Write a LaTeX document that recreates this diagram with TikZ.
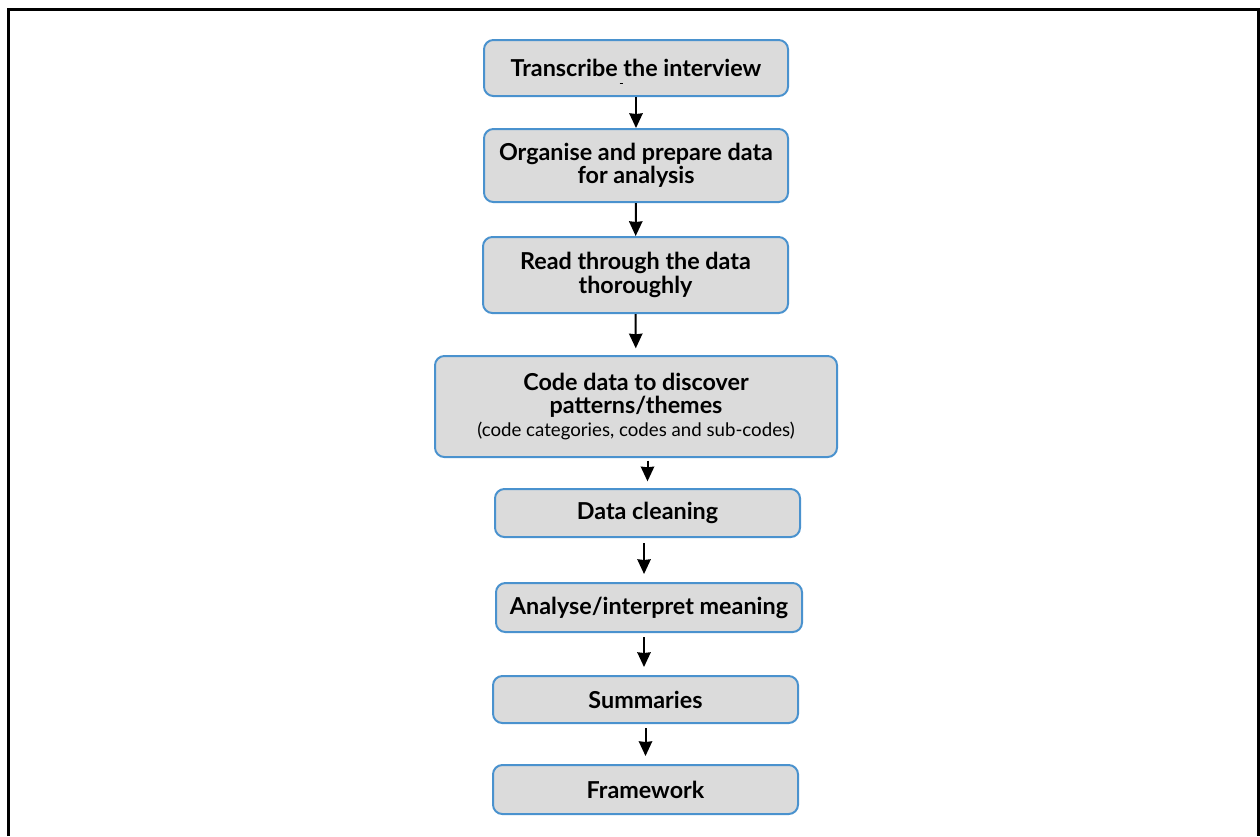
\documentclass[tikz,border=0pt]{standalone}
\usepackage{fontspec}
\setmainfont{Lato}
\usepackage{tkz-euclide}
\usetikzlibrary{arrows.meta}
\definecolor{boxblue}{RGB}{74,146,206}
\definecolor{boxgrey}{RGB}{219,219,219}
\tikzset{
  stepbox/.style={draw=boxblue, fill=boxgrey, line width=1.5pt, rounded corners=7pt,
    align=center, inner sep=0pt, font=\bfseries\fontsize{17.5}{17.5}\selectfont},
  flow/.style={-{Stealth[length=11pt,width=10pt,inset=0.5pt]}, line width=1.5pt}
}
\begin{document}
\begin{tikzpicture}[x=0.75pt,y=-0.75pt]
            \useasboundingbox (0,0) rectangle (1260,836);
            \draw[line width=2.25pt] (8.5,836) -- (8.5,9.5) -- (1258.5,9.5) -- (1258.5,836);

            \tkzDefPoints{636/68/S_t, 636/165.5/S_o, 635.5/275/S_r, 636/406.5/S_c}
            \tkzDefPoints{647.5/513/S_dc, 649/607.5/S_a, 645.5/699.5/S_s, 645.5/789.5/S_f}

            \node[stepbox, minimum width=228pt, minimum height=42pt] (transcribe) at (S_t)
                {Transcribe the interview};
            % stray mark under the first label
            \draw[line width=1.2pt] (619.5,83.5) -- (623,83.5);
            \node[stepbox, minimum width=228pt, minimum height=54.75pt] (organise) at (S_o)
                {Organise and prepare data\\for analysis};
            \node[stepbox, minimum width=228.75pt, minimum height=57pt] (readthrough) at (S_r)
                {Read through the data\\thoroughly};
            \node[stepbox, minimum width=301.5pt, minimum height=75.75pt] (codedata) at (S_c)
                {Code data to discover\\patterns/themes\\{\mdseries\fontsize{14}{17.5}\selectfont (code categories, codes and sub-codes)}};
            \node[stepbox, minimum width=228.75pt, minimum height=36pt] (cleaning) at (S_dc)
                {Data cleaning};
            \node[stepbox, minimum width=229.5pt, minimum height=36.75pt] (analyse) at (S_a)
                {Analyse/interpret meaning};
            \node[stepbox, minimum width=228.75pt, minimum height=35.25pt] (summaries) at (S_s)
                {Summaries};
            \node[stepbox, minimum width=228.75pt, minimum height=36.75pt] (framework) at (S_f)
                {Framework};

            %%%%%%%%%%%%%%%%%%%%
            \draw[flow] (transcribe) -- (organise);
            \draw[flow] (organise) -- (readthrough);
            \draw[flow, shorten >=5pt] (readthrough) -- (codedata);
            \draw[flow, shorten <=2pt, shorten >=5pt] (cleaning.north |- codedata.south) -- (cleaning.north);
            \draw[flow, shorten <=4pt, shorten >=6pt] ([xshift=-2.6pt]cleaning.south)
                -- ([xshift=-2.6pt]cleaning.south |- analyse.north);
            \draw[flow, shorten <=3pt, shorten >=6pt] ([xshift=-3.75pt]analyse.south)
                -- ([xshift=-3.75pt]analyse.south |- summaries.north);
            \draw[flow, shorten <=3pt, shorten >=6pt] (summaries) -- (framework);
        \end{tikzpicture}
\end{document}
